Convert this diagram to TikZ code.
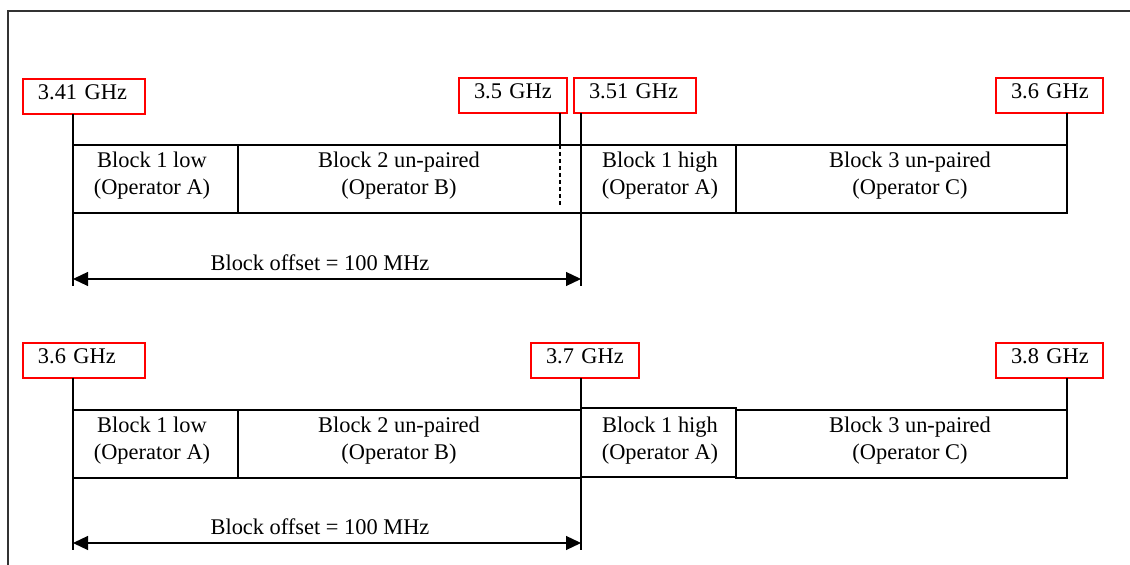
\documentclass[tikz,border=0pt]{standalone}
\usepackage{fontspec}
\setmainfont{Liberation Serif}
\usetikzlibrary{arrows.meta}
\begin{document}
\begin{tikzpicture}[x=0.5pt,y=-0.5pt,
  font=\fontsize{11.2}{13.5}\selectfont,
  freq/.style={draw=red, line width=0.55pt, minimum height=17.5pt, inner xsep=7.5pt, inner ysep=0pt,
    outer sep=0pt, anchor=north west, align=left, text height=7.4pt, text depth=3.9pt},
  blk/.style={draw, line width=0.65pt, minimum height=34pt, inner sep=0pt, outer sep=0pt, anchor=north west},
  lbl/.style={align=center, inner sep=0pt},
  tick/.style={line width=0.6pt},
  dashtick/.style={line width=0.6pt, dash pattern=on 2pt off 1.5pt},
  dim/.style={line width=0.6pt, {Triangle[length=7.5pt,width=7pt]}-{Triangle[length=7.5pt,width=7pt]}},
  framecol/.style={draw=black!80, line width=0.6pt}]
\useasboundingbox (0,0) rectangle (1130,565);
\draw[framecol] (8,565) -- (8,11) -- (1130,11);

% ---------- top row ----------
\node[freq, text width=46pt] (f341) at (23,79) {\mbox{3.41 GHz}};
\node[freq, text width=39pt] (f35) at (459,78) {\mbox{3.5 GHz}};
\node[freq, text width=46pt] (f351) at (574,78) {\mbox{3.51 GHz}};
\node[freq, text width=38.5pt] (f36) at (996,78) {\mbox{3.6 GHz}};

\node[blk, minimum width=82.5pt] (b1low) at (73,145) {};
\node[blk, minimum width=171.5pt] (b2) at (238,145) {};
\node[blk, minimum width=77.5pt] (b1high) at (581,145) {};
\node[blk, minimum width=165.5pt] (b3) at (736,145) {};

\node[lbl] (t1low) at (152,176) {Block 1 low\\(Operator A)};
\node[lbl] (t2) at (399,176) {Block 2 un-paired\\(Operator B)};
\node[lbl] (t1high) at (660,176) {Block 1 high\\(Operator A)};
\node[lbl] (t3) at (910,176) {Block 3 un-paired\\(Operator C)};

\coordinate (e1) at (73,286);
\coordinate (e2) at (581,286);
\coordinate (d35) at (560,207);
\draw[tick] (f341.south -| b1low.west) -- (e1);
\draw[tick] (f351.south -| b1high.west) -- (e2);
\draw[tick] (f35.south -| d35) -- (d35 |- b2.north);
\draw[dashtick] (d35 |- b2.north) -- (d35);
\draw[tick] (f36.south -| b3.east) -- (b3.north east);

\coordinate (al) at (73,279);
\coordinate (ar) at (581,279);
\draw[dim] (al) -- (ar);
\node[anchor=base, inner sep=0pt] (off1) at (320,271) {Block offset = 100 MHz};

% ---------- bottom row ----------
\node[freq, text width=46pt] (g36) at (23,343) {\mbox{3.6 GHz}};
\node[freq, text width=39pt] (g37) at (531,343) {\mbox{3.7 GHz}};
\node[freq, text width=38.5pt] (g38) at (996,343) {\mbox{3.8 GHz}};

\node[blk, minimum width=82.5pt] (c1low) at (73,410) {};
\node[blk, minimum width=171.5pt] (c2) at (238,410) {};
\node[blk, minimum width=165.5pt] (c3) at (736,410) {};
\node[blk, line width=0.75pt, minimum width=77.5pt, minimum height=34.5pt] (c1high) at (581,408) {};

\node[lbl] (s1low) at (152,441) {Block 1 low\\(Operator A)};
\node[lbl] (s2) at (399,441) {Block 2 un-paired\\(Operator B)};
\node[lbl] (s1high) at (660,441) {Block 1 high\\(Operator A)};
\node[lbl] (s3) at (910,441) {Block 3 un-paired\\(Operator C)};

\coordinate (h1) at (73,550);
\coordinate (h2) at (581,550);
\draw[tick] (g36.south -| c1low.west) -- (h1);
\draw[tick] (g37.south -| c1high.west) -- (h2);
\draw[tick] (g38.south -| c3.east) -- (c3.north east);

\coordinate (bl) at (73,543);
\coordinate (br) at (581,543);
\draw[dim] (bl) -- (br);
\node[anchor=base, inner sep=0pt] (off2) at (320,535) {Block offset = 100 MHz};
\end{tikzpicture}
\end{document}
